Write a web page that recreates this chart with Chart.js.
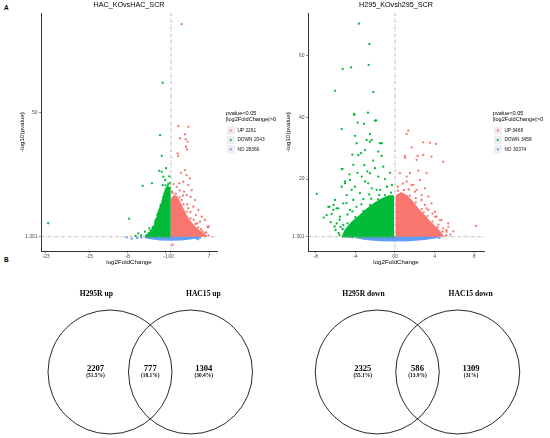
<!DOCTYPE html>
<html><head><meta charset="utf-8">
<script src="https://cdn.jsdelivr.net/npm/chart.js@4.4.1/dist/chart.umd.min.js"></script>
<style>
html,body{margin:0;padding:0;background:#fff;width:550px;height:438px;overflow:hidden;position:relative}
canvas{position:absolute}
.tag{position:absolute;font:bold 6.5px "Liberation Sans",Arial,sans-serif;line-height:6.5px;color:#000}
</style></head><body>
<div class="tag" style="left:4px;top:5px">A</div>
<div class="tag" style="left:4px;top:257px">B</div>
<canvas id="v1" width="290" height="275" style="left:0;top:0"></canvas>
<canvas id="v2" width="275" height="275" style="left:275px;top:0"></canvas>
<canvas id="d1" width="275" height="158" style="left:0;top:280px"></canvas>
<canvas id="d2" width="275" height="158" style="left:275px;top:280px"></canvas>
<script>
// ---------------- DATA ----------------
const groupLabels = ['UP', 'DOWN', 'NO'];
const pThreshold = 1.301;
const fcThreshold = 0;

// Panel A left: HAC_KOvsHAC_SCR
const hacTitle = 'HAC_KOvsHAC_SCR';
const hacCounts = [2261, 2043, 28369];
const hacXTicks = [-23, -15, -8, -1, 0, 7];
const hacXTickLabels = ['-23', '-15', '-8', '-1', '00', '7'];
const hacYTicks = [1.301, 50];
const hacYTickLabels = ['1.301', '50'];
// dense cores (envelope of the crowded point clouds)
const hacNoCore = [[-4.8,1.3],[5.3,1.3],[5.3,1.1],[3.5,0.5],[2,0.12],[0,0],[-2,0.12],[-3.5,0.5],[-4.8,1.1]];
const hacUpCore = [[0.1,1.3],[0.1,16],[0.6,17.5],[1.3,16],[2.0,13],[2.7,10],[3.4,7.5],[4.2,5.5],[5.2,3.5],[6.0,2.3],[6.6,1.3]];
const hacDownCore = [[-0.05,1.3],[-4.3,1.3],[-3.6,3.5],[-3.0,6],[-2.5,9],[-2.1,12],[-1.6,15],[-1.2,18.5],[-0.8,20.5],[-0.05,20.5]];
// individual points
const hacNoPoints = [[-8.15,1.05],[-7.23,0.52],[4.73,0.6],[5.34,0.9],[-5.5,1.0],[-6.2,0.8],[5.0,0.3]];
const hacUpPoints = [[1.97,84.8],[1.35,44.8],[3.19,44.5],[2.58,41.5],[1.66,40],[2.71,39.6],[3.07,38.6],[2.76,36.7],[2.95,35.6],
  [1.23,34.0],[1.35,33.0],[2.58,27.5],[2.89,25.5],[1.84,26.4],[3.5,24.2],[2.26,22.9],[1.53,22.3],[3.19,21.6],[3.81,19.6],
  [3.62,17],[4.42,15.7],[5.03,11.8],[5.65,9.2],[6.26,7.9],[6.7,5.2],[6.9,5.5],[5.34,7.2],[4.11,13.1],[4.6,9.8],[1.05,17],
  [1.97,15.7],[2.89,17.7],[1.05,20.9],[0.3,-1.8],[0.5,22],[0.2,19],[2.4,19],[3.0,14],[3.6,11],[4.2,8],[5.0,5],[5.8,3.5],
  [6.5,3],[6.87,5.0],[2.2,17.5],[3.2,12.5],[1.6,19.5],[4.8,6.5],[5.5,4.2],
  [0.3,18.5],[0.9,18.2],[1.6,16.8],[2.3,14],[2.9,11.2],[3.6,8.5],[4.5,6.3],[5.5,4.3],[6.3,2.8],[6.9,1.8]];
const hacDownPoints = [[-22.6,6.6],[-7.7,8.4],[-6.0,2.6],[-5.2,21.3],[-3.5,22.3],[-4.8,3.3],[-4.0,4.6],[-3.3,5.2],[-2.8,7.9],
  [-2.95,6.4],[-2.5,9.8],[-2.15,11.8],[-1.9,13.8],[-1.5,15.7],[-1.35,17],[-2.0,41.2],[-1.7,33.1],[-1.53,61.8],[-2.15,27.2],
  [-1.7,26.8],[-0.9,28.2],[-1.4,24.9],[-1.1,23.6],[-1.5,21.6],[-0.8,19.4],[-0.5,22],[-0.3,25],[-4.4,2.0],[-3.8,3.8],
  [-3.0,4.5],[-2.6,8.5],[-2.3,10.8],[-1.8,12.5],[-1.2,18],[-0.6,18.5],[-0.2,20.5],[-5.5,1.8],[-6.5,1.6],[-1.0,21.5],
  [-4.6,1.6],[-4.1,2.8],[-3.4,4.8],[-2.9,7.2],[-2.4,10.2],[-1.9,13.2],[-1.4,16.8],[-1.0,19.8],[-0.6,21.2],[-0.2,22.5]];

// Panel A right: H295_KOvsh295_SCR
const h295Title = 'H295_KOvsh295_SCR';
const h295Counts = [3468, 3458, 30374];
const h295XTicks = [-8, -4, 0, 4, 8];
const h295XTickLabels = ['-8', '-4', '00', '4', '8'];
const h295YTicks = [1.301, 20, 40, 60];
const h295YTickLabels = ['1.301', '20', '40', '60'];
const h295NoCore = [[-4.0,1.3],[4.3,1.3],[4.3,1.1],[3,0.5],[1.5,0.12],[0,0],[-1.5,0.12],[-3,0.5],[-4.0,1.1]];
const h295UpCore = [[0.15,1.3],[0.15,14.5],[0.6,15.5],[1.2,14.5],[1.8,12.5],[2.4,10],[3.0,8],[3.5,6.2],[4.0,4.6],[4.5,3.0],[4.9,1.3]];
const h295DownCore = [[-0.1,1.3],[-5.3,1.3],[-5.0,3.5],[-4.4,5.8],[-3.6,8],[-2.9,10],[-2.1,12],[-1.3,13.5],[-0.6,14.5],[-0.1,14.5]];
const h295NoPoints = [[-4.3,1.1],[4.5,0.9],[-4.6,1.2]];
const h295UpPoints = [[1.35,35.7],[1.18,34.6],[1.69,30.3],[2.86,31.9],[3.54,31.8],[4.14,31.4],[1.01,27.5],[2.29,27.5],[3.7,27.3],
  [4.88,25.6],[3.2,21.9],[2.36,22.7],[8.18,4.8],[5.39,4.5],[5.2,3.5],[4.7,6.7],[4.04,7.8],[3.37,10.0],[3.03,11.6],[2.7,13.2],
  [2.02,15.9],[1.68,18.1],[1.18,19.2],[2.86,27.8],[2.19,26.2],[1.01,26.8],[1.52,21.9],[0.5,21.9],[1.18,20.8],[2.53,19.7],
  [1.85,18.1],[3.03,17.0],[3.37,14.3],[3.7,12.1],[4.04,9.4],[4.55,6.7],[5.39,5.6],[4.88,4.0],[5.22,2.9],[4.21,7.8],[2.7,14.8],
  [2.19,16.5],[3.2,10.5],[5.6,2.0],[5.9,3.0],[0.3,17.5],[0.8,18.5],[4.4,5.2],[3.8,8.8],[2.9,9.2],[2.1,13.8],[1.4,16.6],
  [0.3,16.2],[0.9,16.4],[1.5,14.6],[2.1,12.4],[2.7,10.2],[3.3,8.0],[3.8,6.2],[4.3,4.4],[4.8,3.0],[5.2,1.8]];
const h295DownPoints = [[-3.64,70.4],[-2.59,63.8],[-2.66,57.0],[-4.44,56.2],[-5.28,55.7],[-6.06,48.6],[-2.19,48.2],[-2.73,41.5],
  [-4.14,41.1],[-4.1,40.8],[-2.02,38.9],[-1.9,39.0],[-3.77,38.3],[-3.13,37.9],[-5.38,36.2],[-4.04,34.0],[-2.53,34.6],[-3.87,31.6],
  [-2.86,32.7],[-2.35,32.7],[-1.34,31.6],[-3.03,29.4],[-3.43,28.4],[-4.31,27.9],[-1.69,28.9],[-2.53,32.1],[-1.52,31.6],[-1.34,27.5],
  [-3.7,27.8],[-5.38,23.2],[-5.3,23.3],[-7.9,15.2],[-6.74,11.0],[-6.9,8.3],[-6.2,11.6],[-6.06,13.2],[-5.9,10.5],[-5.38,17.5],
  [-5.05,19.2],[-4.55,19.7],[-4.21,24.6],[-5.05,18.6],[-4.37,16.5],[-4.04,17.5],[-4.88,14.8],[-3.36,20.8],[-3.03,19.2],[-2.53,21.9],
  [-2.02,23.5],[-1.69,20.8],[-1.18,24.0],[-2.7,18.6],[-2.35,17.0],[-1.85,16.5],[-3.54,15.4],[-4.21,13.2],[-5.22,12.1],[-5.56,7.8],
  [-4.55,10.0],[-5.89,5.6],[-5.22,5.1],[-6.23,10.0],[-5.73,10.5],[-6.63,11.0],[-7.2,7.5],[-6.5,6.0],[-6.0,3.5],[-5.7,2.5],[-5.5,4.5],
  [-4.8,8.5],[-3.9,11],[-3.2,13.5],[-2.6,15],[-1.5,16.5],[-0.8,17.5],[-0.3,18],[-1.0,20],[-0.5,22],[-2.2,26],[-3.1,24.5],[-2.8,22.5],
  [-3.8,22],[-4.6,21.5],[-4.9,12.2],[-6.4,8.7],[-4.3,9.5],[-3.4,11.8],[-2.4,13.6],[-1.6,14.8],[-5.6,6.8],[-6.1,4.6],
  [-5.6,1.8],[-5.3,3.8],[-4.8,5.6],[-4.0,7.6],[-3.2,9.6],[-2.5,11.6],[-1.7,13.4],[-1.0,14.8],[-0.4,15.6]];

// Panel B: Venn diagrams
const vennUpSets = ['H295R up', 'HAC15 up'];
const vennUpCounts = [2207, 777, 1304];
const vennUpPercents = ['51.5%', '18.1%', '30.4%'];
const vennDownSets = ['H295R down', 'HAC15 down'];
const vennDownCounts = [2325, 586, 1309];
const vennDownPercents = ['55.1%', '13.9%', '31%'];

// ---------------- STYLE / LAYOUT ----------------
const SANS = '"Liberation Sans", Arial, Helvetica, sans-serif';
const SERIF = '"Liberation Serif", "Times New Roman", serif';
const COLORS = {UP: '#F8766D', DOWN: '#00BA38', NO: '#619CFF'};
const toXY = arr => arr.map(p => ({x: p[0], y: p[1]}));

function volcanoPlugin(title, counts) {
  return {
    id: 'ggExtras',
    afterDatasetsDraw(chart) {
      const {ctx, chartArea: a, scales: {x, y}} = chart;
      ctx.save();
      ctx.strokeStyle = '#9c9c9c'; ctx.lineWidth = 0.7; ctx.setLineDash([3, 1.5, 0.8, 1.5]);
      const vx = x.getPixelForValue(fcThreshold);
      ctx.beginPath(); ctx.moveTo(vx, a.top); ctx.lineTo(vx, a.bottom); ctx.stroke();
      const hy = y.getPixelForValue(pThreshold);
      ctx.beginPath(); ctx.moveTo(a.left, hy); ctx.lineTo(a.right, hy); ctx.stroke();
      ctx.restore();
    },
    afterDraw(chart) {
      const {ctx, chartArea: a} = chart;
      ctx.save();
      ctx.fillStyle = '#000'; ctx.textBaseline = 'middle';
      ctx.textAlign = 'center'; ctx.font = `7.2px ${SANS}`;
      ctx.fillText(title, (a.left + a.right) / 2, 5.5);
      const lx = a.right + 8.8;
      ctx.textAlign = 'left'; ctx.font = `5.6px ${SANS}`;
      ctx.fillText('pvalue<0.05', lx, 113.6);
      ctx.fillText('|log2FoldChange|>0', lx, 119.2);
      const ys = [130.6, 140, 149.3];
      groupLabels.forEach((g, i) => {
        ctx.fillStyle = '#EDEDED';
        ctx.fillRect(lx + 1, ys[i] - 4, 8, 8);
        ctx.fillStyle = COLORS[g];
        ctx.beginPath(); ctx.arc(lx + 5, ys[i], 1.1, 0, Math.PI * 2); ctx.fill();
        ctx.fillStyle = '#111'; ctx.font = `4.8px ${SANS}`;
        ctx.fillText(g + ' ' + counts[i], lx + 11.6, ys[i]);
      });
      ctx.restore();
    }
  };
}

function volcano(id, L, d) {
  const core = (arr, g, order) => ({type: 'line', data: toXY(arr), order, fill: 'shape',
    backgroundColor: COLORS[g], borderColor: COLORS[g], borderWidth: 1.6, pointRadius: 0, tension: 0});
  const pts = (arr, g, order) => ({type: 'scatter', data: toXY(arr), order,
    pointBackgroundColor: COLORS[g], pointBorderWidth: 0, pointRadius: 1.15, showLine: false});
  const tickFont = {size: 5, family: SANS};
  return new Chart(document.getElementById(id), {
    type: 'scatter',
    data: {datasets: [
      core(d.noCore, 'NO', 6), pts(d.noPts, 'NO', 5),
      core(d.upCore, 'UP', 4), pts(d.upPts, 'UP', 3),
      core(d.downCore, 'DOWN', 2), pts(d.downPts, 'DOWN', 1)
    ]},
    options: {
      responsive: false, animation: false, events: [],
      layout: {padding: {left: 0, top: 13, right: L.padRight, bottom: 0}},
      plugins: {legend: {display: false}, tooltip: {enabled: false}},
      scales: {
        x: {type: 'linear', min: L.xMin, max: L.xMax,
          afterBuildTicks: s => { s.ticks = d.xTicks.map(v => ({value: v})); },
          afterFit: s => { s.height = 24; },
          ticks: {autoSkip: false, maxRotation: 0, padding: 0.5, color: '#4D4D4D', font: tickFont,
            callback: (v, i) => d.xTickLabels[i]},
          grid: {drawOnChartArea: false, drawTicks: true, tickLength: 2, color: '#333', lineWidth: 0.6},
          border: {display: true, color: '#333', width: 1},
          title: {display: true, text: 'log2FoldChange', color: '#000', font: {size: 6.2, family: SANS},
            padding: {top: 0, bottom: 8.5}}
        },
        y: {type: 'linear', min: L.yMin, max: L.yMax,
          afterBuildTicks: s => { s.ticks = d.yTicks.map(v => ({value: v})); },
          afterFit: s => { s.width = L.yWidth; },
          ticks: {autoSkip: false, padding: 1.5, color: '#4D4D4D', font: tickFont,
            callback: (v, i) => d.yTickLabels[i]},
          grid: {drawOnChartArea: false, drawTicks: true, tickLength: 2, color: '#333', lineWidth: 0.6},
          border: {display: true, color: '#333', width: 1},
          title: {display: true, text: '-log10(pvalue)', color: '#000', font: {size: 6.2, family: SANS},
            padding: {top: L.yTitlePad, bottom: 0}}
        }
      }
    },
    plugins: [volcanoPlugin(d.title, d.counts)]
  });
}

volcano('v1', {padRight: 73, yWidth: 41, xMin: -23.92, xMax: 8.47, yMin: -4.3, yMax: 89.2, yTitlePad: 18.3},
  {title: hacTitle, counts: hacCounts, xTicks: hacXTicks, xTickLabels: hacXTickLabels, yTicks: hacYTicks, yTickLabels: hacYTickLabels,
   noCore: hacNoCore, upCore: hacUpCore, downCore: hacDownCore, noPts: hacNoPoints, upPts: hacUpPoints, downPts: hacDownPoints});
volcano('v2', {padRight: 66, yWidth: 33, xMin: -8.79, xMax: 9.0, yMin: -3.34, yMax: 73.85, yTitlePad: 9.6},
  {title: h295Title, counts: h295Counts, xTicks: h295XTicks, xTickLabels: h295XTickLabels, yTicks: h295YTicks, yTickLabels: h295YTickLabels,
   noCore: h295NoCore, upCore: h295UpCore, downCore: h295DownCore, noPts: h295NoPoints, upPts: h295UpPoints, downPts: h295DownPoints});

// Venn layout: circles at -0.5 / +0.5, radius 0.77 (units); 80.5 px per unit
const VENN_UNIT = 80.5, VENN_R = 0.77, VENN_CY = 92;
function venn(id, centerPx, sets, counts, pcts) {
  const W = 275, H = 158;
  const textPlugin = {
    id: 'vennText',
    afterDatasetsDraw(chart) {
      const {ctx, scales: {x, y}} = chart;
      ctx.save();
      ctx.fillStyle = '#000'; ctx.textAlign = 'center'; ctx.textBaseline = 'middle';
      ctx.font = `bold 7.6px ${SERIF}`;
      ctx.fillText(sets[0], x.getPixelForValue(-0.67), y.getPixelForValue(0.969));
      ctx.fillText(sets[1], x.getPixelForValue(0.66), y.getPixelForValue(0.969));
      const xs = [-0.68, 0, 0.665];
      counts.forEach((c, i) => {
        ctx.font = `bold 8.6px ${SERIF}`;
        ctx.fillText(String(c), x.getPixelForValue(xs[i]), y.getPixelForValue(0.037));
        ctx.font = `bold 5.4px ${SERIF}`;
        ctx.fillText('(' + pcts[i] + ')', x.getPixelForValue(xs[i]), y.getPixelForValue(-0.046));
      });
      ctx.restore();
    }
  };
  return new Chart(document.getElementById(id), {
    type: 'scatter',
    data: {datasets: [{
      data: [{x: -0.5, y: 0}, {x: 0.5, y: 0}],
      clip: false,
      pointRadius: c => Math.abs(c.chart.scales.x.getPixelForValue(VENN_R) - c.chart.scales.x.getPixelForValue(0)),
      pointBackgroundColor: 'rgba(0,0,0,0)', pointBorderColor: '#111', pointBorderWidth: 0.9
    }]},
    options: {
      responsive: false, animation: false, events: [],
      layout: {padding: 0},
      plugins: {legend: {display: false}, tooltip: {enabled: false}},
      scales: {
        x: {display: false, min: -centerPx / VENN_UNIT, max: (W - centerPx) / VENN_UNIT},
        y: {display: false, min: -(H - VENN_CY) / VENN_UNIT, max: VENN_CY / VENN_UNIT}
      }
    },
    plugins: [textPlugin]
  });
}
venn('d1', 150.25, vennUpSets, vennUpCounts, vennUpPercents);
venn('d2', 142.5, vennDownSets, vennDownCounts, vennDownPercents);
</script>
</body></html>
